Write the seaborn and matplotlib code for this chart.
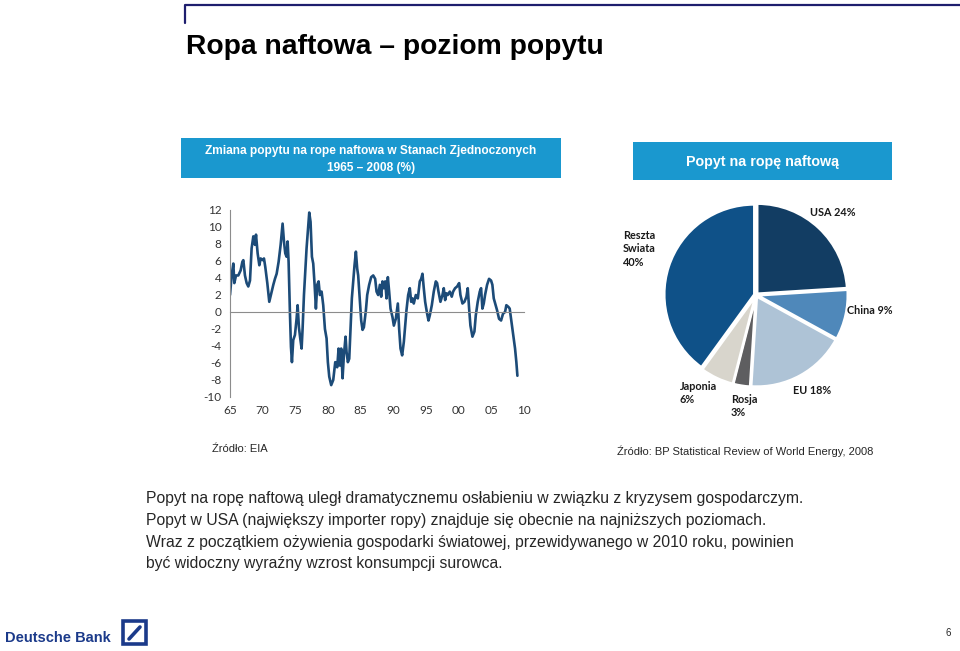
# oil_demand_slide.py
# Slide: "Ropa naftowa - poziom popytu" (US oil demand change + world demand pie)

import numpy as np
import pandas as pd
import matplotlib
matplotlib.use("Agg")
import matplotlib.pyplot as plt
import matplotlib.patches as mpatches
import seaborn as sns

# -----------------------------
# Data
# -----------------------------
years = [
    1965.00, 1965.25, 1965.51, 1965.66, 1965.92, 1966.27, 1966.63, 1966.89, 1967.04, 1967.29,
    1967.55, 1967.80, 1968.06, 1968.31, 1968.57, 1968.82, 1968.98, 1969.23, 1969.49, 1969.69,
    1970.00, 1970.20, 1970.40, 1970.71, 1971.01, 1971.32, 1971.63, 1971.88, 1972.14, 1972.44,
    1972.75, 1973.05, 1973.26, 1973.46, 1973.66, 1973.82, 1973.97, 1974.17, 1974.33, 1974.48,
    1974.68, 1974.94, 1975.19, 1975.35, 1975.55, 1975.75, 1975.96, 1976.11, 1976.32, 1976.52,
    1976.72, 1976.98, 1977.13, 1977.33, 1977.54, 1977.74, 1977.95, 1978.15, 1978.35, 1978.56,
    1978.76, 1979.02, 1979.27, 1979.53, 1979.78, 1979.98, 1980.19, 1980.49, 1980.80, 1981.11,
    1981.41, 1981.62, 1981.82, 1982.02, 1982.23, 1982.43, 1982.69, 1982.84, 1983.04, 1983.25,
    1983.45, 1983.65, 1983.86, 1984.06, 1984.27, 1984.47, 1984.62, 1984.88, 1985.08, 1985.29,
    1985.49, 1985.80, 1986.00, 1986.30, 1986.61, 1986.92, 1987.22, 1987.43, 1987.68, 1987.94,
    1988.14, 1988.34, 1988.55, 1988.75, 1988.96, 1989.16, 1989.36, 1989.57, 1989.87, 1990.08,
    1990.38, 1990.69, 1990.89, 1991.10, 1991.35, 1991.61, 1991.81, 1992.01, 1992.27, 1992.52,
    1992.73, 1992.93, 1993.13, 1993.44, 1993.75, 1994.05, 1994.26, 1994.46, 1994.66, 1994.87,
    1995.17, 1995.38, 1995.58, 1995.89, 1996.19, 1996.50, 1996.70, 1996.91, 1997.21, 1997.52,
    1997.72, 1997.93, 1998.13, 1998.33, 1998.64, 1998.94, 1999.15, 1999.45, 1999.76, 2000.07,
    2000.27, 2000.58, 2000.88, 2001.19, 2001.39, 2001.60, 2001.80, 2002.11, 2002.41, 2002.62,
    2002.92, 2003.23, 2003.43, 2003.63, 2003.84, 2004.04, 2004.35, 2004.65, 2004.96, 2005.16,
    2005.37, 2005.67, 2005.88, 2006.18, 2006.49, 2006.79, 2007.10, 2007.30, 2007.61, 2007.81,
    2008.02, 2008.22, 2008.43, 2008.63, 2008.83, 2008.99,
]
us_demand_change = [
    2.0, 4.3, 5.7, 3.4, 4.3, 4.3, 4.9, 5.9, 6.1, 4.3,
    3.4, 3.0, 3.7, 7.5, 8.9, 7.9, 9.1, 6.9, 5.5, 6.3,
    6.1, 6.3, 5.3, 3.4, 1.2, 2.2, 3.2, 3.9, 4.5, 5.9,
    7.9, 10.4, 8.3, 6.9, 6.5, 8.3, 5.9, 0.0, -4.1, -5.9,
    -3.3, -2.7, -0.8, 0.8, -1.8, -3.1, -4.3, -2.0, 2.0, 4.7,
    7.5, 10.2, 11.7, 10.6, 6.5, 5.7, 3.2, 0.4, 3.2, 3.6,
    2.0, 2.4, 0.8, -2.0, -3.1, -5.9, -7.6, -8.6, -8.0, -5.9,
    -6.5, -4.3, -6.3, -4.3, -7.8, -5.1, -2.9, -4.7, -5.9, -5.5,
    -2.0, 1.6, 3.6, 5.5, 7.1, 5.1, 4.3, 1.2, -1.0, -2.1,
    -1.8, 0.2, 2.0, 3.2, 4.1, 4.3, 3.9, 2.4, 2.0, 3.2,
    1.8, 3.6, 2.8, 3.6, 1.6, 4.1, 2.4, 0.4, -0.6, -1.6,
    -0.8, 1.0, -2.0, -4.3, -5.1, -3.5, -1.6, 0.2, 2.0, 2.8,
    1.2, 1.6, 1.0, 2.0, 1.6, 3.6, 3.9, 4.5, 2.8, 1.2,
    -0.2, -1.0, -0.4, 0.8, 2.4, 3.6, 3.4, 2.4, 1.2, 2.0,
    2.8, 1.4, 2.2, 2.0, 2.4, 1.8, 2.4, 2.8, 3.0, 3.4,
    2.0, 1.0, 1.2, 1.8, 2.8, 0.4, -1.6, -2.9, -2.3, -0.4,
    1.2, 2.4, 2.8, 0.4, 1.0, 2.0, 3.2, 3.9, 3.7, 3.2,
    1.6, 0.8, 0.2, -0.8, -1.0, -0.2, 0.0, 0.8, 0.6, 0.4,
    -0.8, -2.0, -3.1, -4.3, -5.9, -7.5,
]
x_ticks = [1965, 1970, 1975, 1980, 1985, 1990, 1995, 2000, 2005, 2010]
x_tick_labels = ["65", "70", "75", "80", "85", "90", "95", "00", "05", "10"]
y_ticks = [12, 10, 8, 6, 4, 2, 0, -2, -4, -6, -8, -10]

pie_regions = ["USA", "China", "EU", "Rosja", "Japonia", "Reszta Swiata"]
pie_shares = [24, 9, 18, 3, 6, 40]
pie_labels = ["USA 24%", "China 9%", "EU 18%", "Rosja\n3%", "Japonia\n6%", "Reszta\nSwiata\n40%"]
pie_colors = ["#123d63", "#4f88ba", "#aec3d6", "#5e5e60", "#d8d5cc", "#0f5188"]

title = "Ropa naftowa \u2013 poziom popytu"
line_box_title = "Zmiana popytu na rope naftowa w Stanach Zjednoczonych\n1965 \u2013 2008 (%)"
pie_box_title = "Popyt na ropę naftową"
line_source = "Źródło: EIA"
pie_source = "Źródło: BP Statistical Review of World Energy, 2008"
body_lines = [
    "Popyt na ropę naftową uległ dramatycznemu osłabieniu w związku z kryzysem gospodarczym.",
    "Popyt w USA (największy importer ropy) znajduje się obecnie na najniższych poziomach.",
    "Wraz z początkiem ożywienia gospodarki światowej, przewidywanego w 2010 roku, powinien",
    "być widoczny wyraźny wzrost konsumpcji surowca.",
]

# -----------------------------
# Helpers (pixel -> figure coords)
# -----------------------------
W, H = 960, 651


def fx(px):
    return px / W


def fy(py):
    return 1 - py / H


def px_rect(left, top, right, bottom):
    return [fx(left), fy(bottom), (right - left) / W, (bottom - top) / H]


# -----------------------------
# Figure
# -----------------------------
sns.set_style("white")
plt.rcParams["font.family"] = ["Liberation Sans", "DejaVu Sans"]

fig = plt.figure(figsize=(9.6, 6.51), dpi=100)
fig.patch.set_facecolor("white")

# top frame line
fig.add_artist(plt.Line2D([fx(185), fx(185), fx(960)], [fy(23), fy(5), fy(5)],
                          color="#1e1e6e", lw=1.6))

fig.text(fx(186), fy(47), title, fontsize=20.3, fontweight="bold",
         va="center", ha="left", color="black")

# blue header boxes
box_specs = [((181, 138, 561, 178), line_box_title, 8.6, 1.55),
             ((633, 142, 892, 180), pie_box_title, 10.3, 1.2)]
for (l, t, r, b), txt, fs, ls in box_specs:
    fig.add_artist(mpatches.Rectangle((fx(l), fy(b)), (r - l) / W, (b - t) / H,
                                      transform=fig.transFigure, color="#1a98cf", lw=0))
    fig.text(fx((l + r) / 2), fy((t + b) / 2 + 1.5), txt, color="white", fontsize=fs,
             fontweight="bold", ha="center", va="center", linespacing=ls)

# -----------------------------
# Line chart
# -----------------------------
ax = fig.add_axes(px_rect(230, 210, 524, 397))
df = pd.DataFrame({"year": years, "change": us_demand_change})
sns.lineplot(data=df, x="year", y="change", ax=ax, color="#1c4b78", linewidth=1.9)
ax.set_xlim(1965, 2010)
ax.set_ylim(-10, 12)
ax.set_xlabel("")
ax.set_ylabel("")
ax.set_xticks(x_ticks)
ax.set_xticklabels(x_tick_labels)
ax.set_yticks(y_ticks)
ax.set_yticklabels([str(v) for v in y_ticks])
for s in ["top", "right"]:
    ax.spines[s].set_visible(False)
ax.spines["left"].set_color("#8c8c8c")
ax.spines["bottom"].set_position(("data", 0))
ax.spines["bottom"].set_color("#8c8c8c")
ax.tick_params(axis="both", which="both", direction="out", length=3, width=0.8,
               color="#8c8c8c", labelsize=8.5, labelcolor="#333333")
ax.tick_params(axis="x", pad=64)
ax.tick_params(axis="y", pad=3)
for lab in ax.get_xticklabels() + ax.get_yticklabels():
    lab.set_family(["Lato", "DejaVu Sans"])
ax.patch.set_alpha(0)

fig.text(fx(212), fy(449), line_source, fontsize=8, va="center", ha="left")

# -----------------------------
# Pie chart
# -----------------------------
pax = fig.add_axes(px_rect(656, 195, 856, 395))
pax.pie(pie_shares, colors=pie_colors, startangle=90, counterclock=False,
        radius=1.0, explode=[0.02] * len(pie_shares),
        wedgeprops=dict(edgecolor="white", linewidth=1.8))
pax.set_xlim(-1.111, 1.111)
pax.set_ylim(-1.111, 1.111)
pax.set_aspect("equal")
pax.axis("off")

label_pos = [(810, 212), (847, 311), (793, 390), (731, 406), (680, 393), (623, 249)]
for (lx, ly), txt in zip(label_pos, pie_labels):
    fig.text(fx(lx), fy(ly), txt, fontsize=7.8, fontweight="bold", ha="left", va="center",
             family=["Lato", "DejaVu Sans"], color="#1a1a1a", linespacing=1.25)

fig.text(fx(617), fy(451), pie_source, fontsize=8, va="center", ha="left")

# -----------------------------
# Body text
# -----------------------------
for i, line in enumerate(body_lines):
    fig.text(fx(146), fy(499 + i * 21.5), line, fontsize=11.3, va="center", ha="left")

# -----------------------------
# Footer
# -----------------------------
fig.text(fx(5), fy(638), "Deutsche Bank", fontsize=10.5, fontweight="bold",
         color="#1b3a8a", va="center", ha="left")
fig.add_artist(mpatches.Rectangle((fx(123), fy(644)), 23 / W, 23 / H,
                                  transform=fig.transFigure, fill=False,
                                  edgecolor="#1b3a8a", lw=2.6))
fig.add_artist(plt.Line2D([fx(129), fx(140)], [fy(639), fy(627)],
                          color="#1b3a8a", lw=2.6))
fig.text(fx(948), fy(633), "6", fontsize=7, va="center", ha="center")

fig.savefig("out.png", dpi=100)
